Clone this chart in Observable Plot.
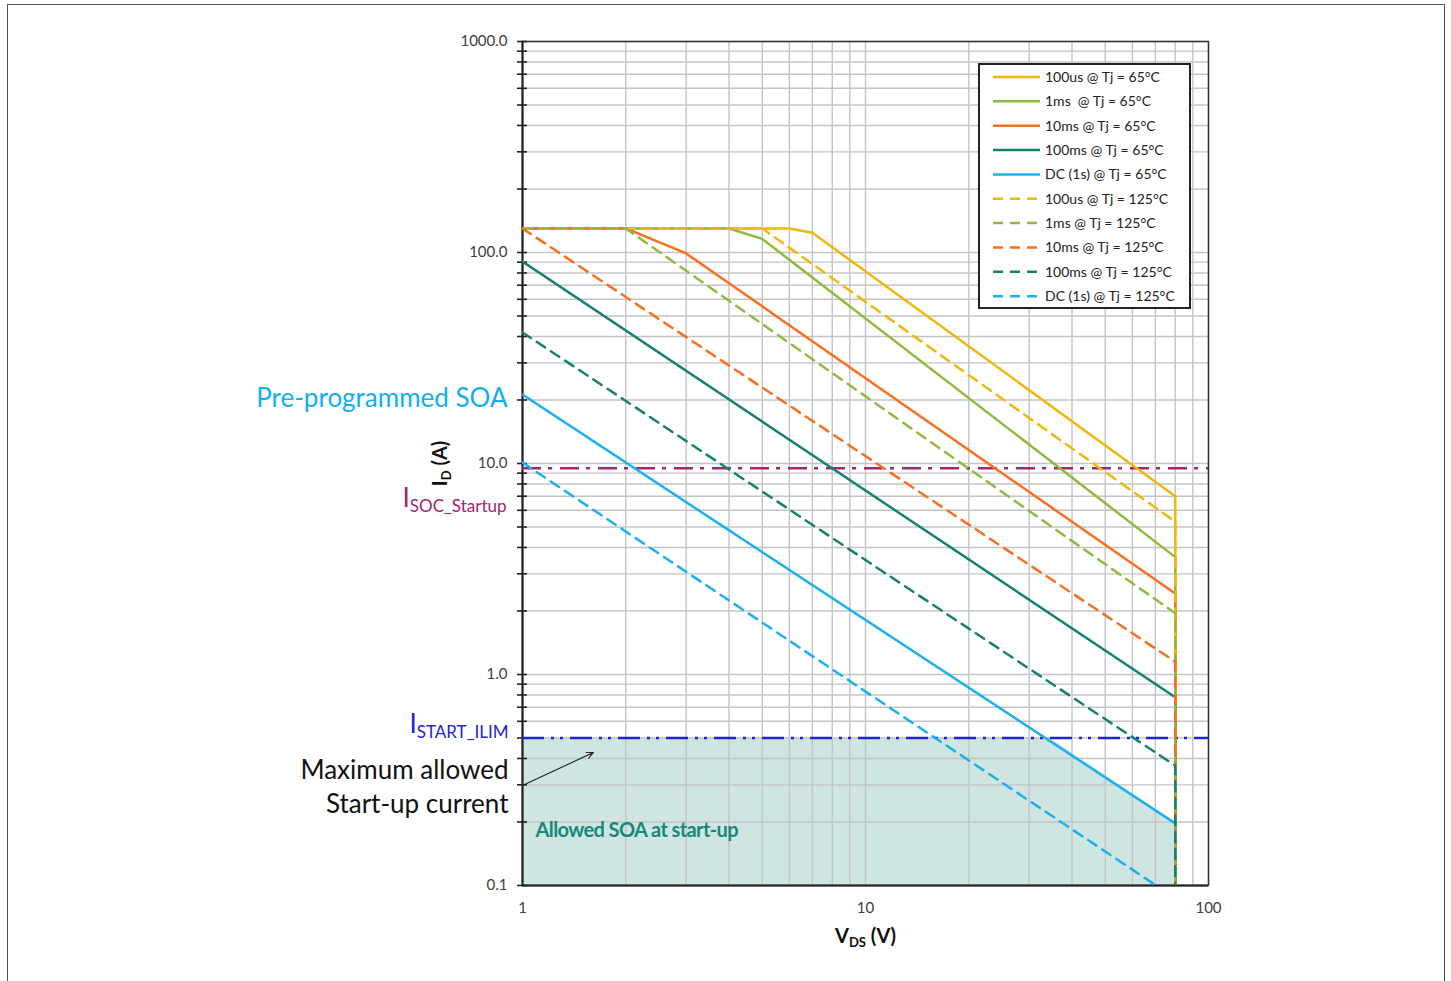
<!DOCTYPE html>
<html><head><meta charset="utf-8">
<script src="https://cdn.jsdelivr.net/npm/d3@7"></script>
<script src="https://cdn.jsdelivr.net/npm/@observablehq/plot@0.6"></script>
<style>
body{margin:0;background:#fff;}
#wrap{position:relative;width:1451px;height:981px;overflow:hidden;background:#fff;}
#border{position:absolute;left:7px;top:4px;width:1438px;height:1000px;border:1.5px solid #555;box-sizing:border-box;}
#chart{position:absolute;left:0;top:0;}
</style></head><body>
<div id="wrap"><div id="border"></div><div id="chart"></div></div>
<script>
// ---- data ----
const seriesNames = [
  "100us @ Tj = 65°C", "1ms  @ Tj = 65°C", "10ms @ Tj = 65°C", "100ms @ Tj = 65°C", "DC (1s) @ Tj = 65°C",
  "100us @ Tj = 125°C", "1ms @ Tj = 125°C", "10ms @ Tj = 125°C", "100ms @ Tj = 125°C", "DC (1s) @ Tj = 125°C"
];
const seriesColors = ["#F2B70C", "#8FBA40", "#F8701F", "#15816E", "#1BB1F0",
                      "#F2B70C", "#8FBA40", "#F8701F", "#15816E", "#1BB1F0"];
const seriesDashed = [false, false, false, false, false, true, true, true, true, true];
const seriesV = [
  [1, 6, 7, 80, 80],
  [1, 4, 5, 80, 80],
  [1, 2, 3, 80, 80],
  [1, 80, 80],
  [1, 80, 80],
  [1, 5, 80, 80],
  [1, 2, 80, 80],
  [1, 80, 80],
  [1, 80, 80],
  [1, 80, 80]
];
const seriesI = [
  [130, 130, 124, 7.0, 0.1],
  [130, 130, 116, 3.6, 0.1],
  [130, 130, 99, 2.42, 0.1],
  [90.6, 0.78, 0.1],
  [21.2, 0.197, 0.1],
  [130, 130, 5.3, 0.1],
  [130, 130, 1.95, 0.1],
  [130, 1.15, 0.1],
  [41.8, 0.37, 0.1],
  [10.1, 0.087, 0.1]
];
const isocStartup = 9.5;   // A
const istartIlim = 0.5;    // A
const soaV = [1, 34.5, 80];
const soaI = [0.5, 0.5, 0.197];
const arrowTail = {v: 1, i: 0.298};
const arrowHead = {v: 1.61, i: 0.427};
const xMajor = [1, 10, 100];
const yMajor = [0.1, 1, 10, 100, 1000];
const xMinor = [1,2,3,4,5,6,7,8,9,10,20,30,40,50,60,70,80,90,100];
const yMinor = [0.1,0.2,0.3,0.4,0.5,0.6,0.7,0.8,0.9,1,2,3,4,5,6,7,8,9,10,20,30,40,50,60,70,80,90,100,200,300,400,500,600,700,800,900,1000];

// ---- build ----
const rows = [];
seriesNames.forEach((name, k) => seriesV[k].forEach((v, j) =>
  rows.push({name, v, i: seriesI[k][j], color: seriesColors[k], dashed: seriesDashed[k]})));
const soaRows = soaV.map((v, j) => ({v, i: soaI[j]}));

const svg = Plot.plot({
  width: 1451, height: 981,
  marginLeft: 522, marginRight: 243, marginTop: 41, marginBottom: 96,
  style: {fontFamily: "Lato, 'Open Sans', sans-serif", background: "transparent"},
  x: {type: "log", domain: [1, 100]},
  y: {type: "log", domain: [0.1, 1000]},
  color: {type: "identity"},
  marks: [
    Plot.areaY(soaRows, {x: "v", y1: 0.1, y2: "i", fill: "#CFE5E2"}),
    Plot.gridX(xMinor, {stroke: "#c4c4c4", strokeOpacity: 1, strokeWidth: 1.4}),
    Plot.gridY(yMinor, {stroke: "#c4c4c4", strokeOpacity: 1, strokeWidth: 1.4}),
    Plot.axisY(yMinor, {tickSize: 10, dx: 5, text: null, label: null, stroke: "#222", strokeWidth: 1.6}),
    Plot.axisY(yMajor, {tickSize: 0, tickPadding: 15, tickFormat: d3.format(".1f"), fontSize: 15, fill: "#404040", label: null}),
    Plot.axisX(xMajor, {tickSize: 0, tickPadding: 17, tickFormat: d => String(d), fontSize: 15, fill: "#404040", label: null}),
    Plot.frame({stroke: "#333", strokeWidth: 1.5}),
    Plot.ruleX([1], {stroke: "#222", strokeWidth: 2}),
    Plot.ruleY([0.1], {stroke: "#222", strokeWidth: 2}),
    Plot.ruleY([isocStartup], {stroke: "#A0266F", strokeWidth: 2.5, strokeDasharray: "19,7,4,8"}),
    Plot.ruleY([istartIlim], {stroke: "#2222D6", strokeWidth: 2.5, strokeDasharray: "22,7,3,6,3,7"}),
    Plot.line(rows.filter(d => !d.dashed), {x: "v", y: "i", z: "name", stroke: "color", strokeWidth: 2.5, clip: true}),
    Plot.line(rows.filter(d => d.dashed), {x: "v", y: "i", z: "name", stroke: "color", strokeWidth: 2.5, strokeDasharray: "10,7", clip: true}),
    Plot.text(["Pre-programmed SOA"], {x: 1, y: seriesI[4][0], dx: -15, dy: 4, textAnchor: "end", fill: "#12AFEF", fontSize: 26}),
    Plot.text(["ISOC_Startup"], {x: 1, y: isocStartup, dx: -16, dy: 30, textAnchor: "end", fill: "#A0266F", fontSize: 26}),
    Plot.text(["ISTART_ILIM"], {x: 1, y: istartIlim, dx: -14, dy: -13, textAnchor: "end", fill: "#2424D0", fontSize: 26}),
    Plot.text(["Maximum allowed\nStart-up current"], {x: arrowTail.v, y: arrowTail.i, dx: -14, dy: 0, textAnchor: "end", fill: "#111", fontSize: 26, lineHeight: 1.31}),
    Plot.arrow([0], {x1: arrowTail.v, y1: arrowTail.i, x2: arrowHead.v, y2: arrowHead.i, stroke: "#222", strokeWidth: 1.1, headLength: 10, headAngle: 50}),
    Plot.text(["Allowed SOA at start-up"], {x: 1, y: 0.182, dx: 13, textAnchor: "start", fill: "#168A7A", fontSize: 20, fontWeight: "bold"}),
    Plot.text(["ID (A)"], {frameAnchor: "left", dx: -82, rotate: -90, textAnchor: "middle", fill: "#111", fontSize: 20, fontWeight: "bold"}),
    Plot.text(["VDS (V)"], {frameAnchor: "bottom", dy: 57, textAnchor: "middle", fill: "#111", fontSize: 20, fontWeight: "bold"})
  ]
});

function subscript(full, main, sub, rest, subSize, shift) {
  d3.select(svg).selectAll("text").filter(function() { return this.textContent === full; }).each(function() {
    const t = d3.select(this);
    t.text(null);
    t.append("tspan").text(main);
    t.append("tspan").attr("font-size", subSize).attr("dy", shift).text(sub);
    if (rest) t.append("tspan").attr("dy", -shift).text(rest);
  });
}
subscript("ISOC_Startup", "I", "SOC_Startup", null, 17, 5);
subscript("ISTART_ILIM", "I", "START_ILIM", null, 17, 5);
subscript("ID (A)", "I", "D", " (A)", 13, 4);
subscript("VDS (V)", "V", "DS", " (V)", 13, 4);
d3.select(svg).selectAll("text").filter(function() { return this.textContent === "Allowed SOA at start-up"; })
  .attr("letter-spacing", "-0.6");

// legend
const lg = d3.select(svg).append("g").attr("transform", "translate(979,64)")
  .attr("font-family", "Lato, 'Open Sans', sans-serif").attr("text-anchor", "start");
lg.append("rect").attr("width", 211).attr("height", 244).attr("fill", "#fff").attr("stroke", "#222").attr("stroke-width", 2);
seriesNames.forEach((n, k) => {
  const y = 13 + k * 24.35;
  lg.append("line").attr("x1", 14).attr("x2", 61).attr("y1", y).attr("y2", y)
    .attr("stroke", seriesColors[k]).attr("stroke-width", 2.5)
    .attr("stroke-dasharray", seriesDashed[k] ? "10,7" : null);
  lg.append("text").attr("x", 66).attr("y", y).attr("dy", "0.35em").attr("font-size", 14)
    .attr("text-anchor", "start").attr("fill", "#222").style("white-space", "pre").text(n);
});

document.getElementById("chart").appendChild(svg);
</script>
</body></html>
